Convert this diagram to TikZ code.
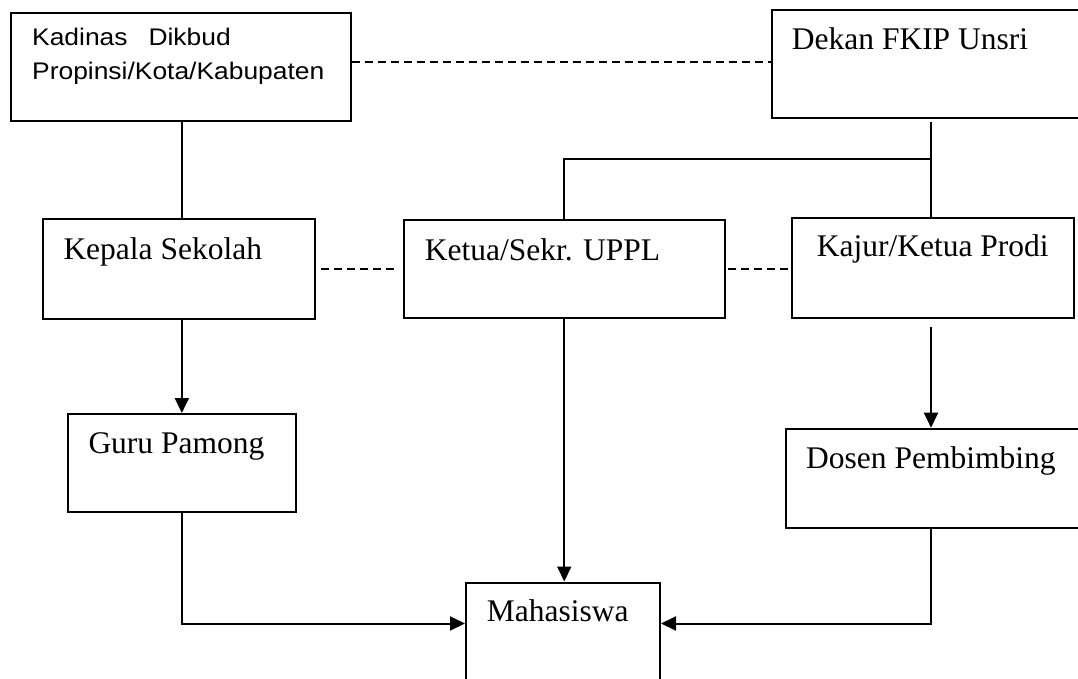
\documentclass[tikz,border=0pt]{standalone}
\usepackage{fontspec}
\setmainfont{Liberation Serif}
\newfontfamily\arialx[FakeStretch=1.1]{Liberation Sans}
\usetikzlibrary{arrows.meta}
\begin{document}
\begin{tikzpicture}[x=1pt,y=-1pt,
  box/.style={draw, line width=2pt, inner sep=0pt, anchor=north west},
  txt/.style={inner sep=0pt, anchor=base west, font=\fontsize{31.5}{36}\selectfont},
  stxt/.style={inner sep=0pt, anchor=base west, font=\arialx\fontsize{24}{34}\selectfont},
  solidline/.style={line width=2pt},
  dashline/.style={line width=1.7pt, dash pattern=on 8pt off 5pt},
  arr/.style={line width=2pt, -{Triangle[length=15pt,width=14pt]}}
]
\clip (0,0) rectangle (1078,679);
\fill[white] (0,0) rectangle (1078,679);

% boxes
\node[box, minimum width=339.5pt, minimum height=108.3pt] (kadinas) at (10,11.7) {};
\node[box, minimum width=330pt, minimum height=108pt] (dekan) at (770.7,9.3) {};
\node[box, minimum width=272.6pt, minimum height=100pt] (kepala) at (41.7,217.7) {};
\node[box, minimum width=321.5pt, minimum height=98pt] (uppl) at (402.5,219.3) {};
\node[box, minimum width=282.3pt, minimum height=100.3pt] (kajur) at (791,217) {};
\node[box, minimum width=228.3pt, minimum height=98.3pt] (guru) at (66.7,413) {};
\node[box, minimum width=310pt, minimum height=99pt] (dosen) at (785,427.7) {};
\node[box, minimum width=194pt, minimum height=120pt] (maha) at (465,581.5) {};

% texts
\node[stxt] (t1) at (32,46) {Kadinas\hspace{21pt}Dikbud};
\node[stxt] (t2) at (32,80) {Propinsi/Kota/Kabupaten};
\node[txt] (t3) at (791.7,49.3) {Dekan FKIP Unsri};
\node[txt] (t4) at (63.3,259) {Kepala Sekolah};
\node[txt] (t5) at (424.6,260) {Ketua/Sekr. UPPL};
\node[txt] (t6) at (816.6,256.7) {Kajur/Ketua Prodi};
\node[txt] (t7) at (88.3,453.3) {Guru Pamong};
\node[txt] (t8) at (806,468.3) {Dosen Pembimbing};
\node[txt] (t9) at (486.7,621.7) {Mahasiswa};

% junctions
\coordinate (dj) at (931,159);
\coordinate (mj) at (0,623.5);
\coordinate (kj) at (0,268.8);

% connectors
\draw[dashline] (kadinas.east |- 0,61.7) -- (dekan.west |- 0,61.7);
\draw[solidline] (kadinas.south -| guru.north) -- (kepala.north -| guru.north);
\draw[solidline, shorten <=2.5pt] (dekan.south -| dj) -- (kajur.north -| dj);
\draw[solidline] (dj) -| (uppl.north);
\draw[dashline, shorten <=5pt, shorten >=4pt] (kepala.east |- kj) -- (uppl.west |- kj);
\draw[dashline, shorten <=2pt, shorten >=3pt] (uppl.east |- kj) -- (kajur.west |- kj);
\draw[arr] (kepala.south -| guru.north) -- (guru.north);
\draw[arr] (uppl.south) -- (uppl.south |- maha.north);
\draw[arr, shorten <=7.7pt] (kajur.south -| dj) -- (dosen.north -| dj);
\draw[arr] (guru.south) |- (maha.west |- mj);
\draw[arr] (dosen.south -| dj) |- (maha.east |- mj);
\end{tikzpicture}
\end{document}
